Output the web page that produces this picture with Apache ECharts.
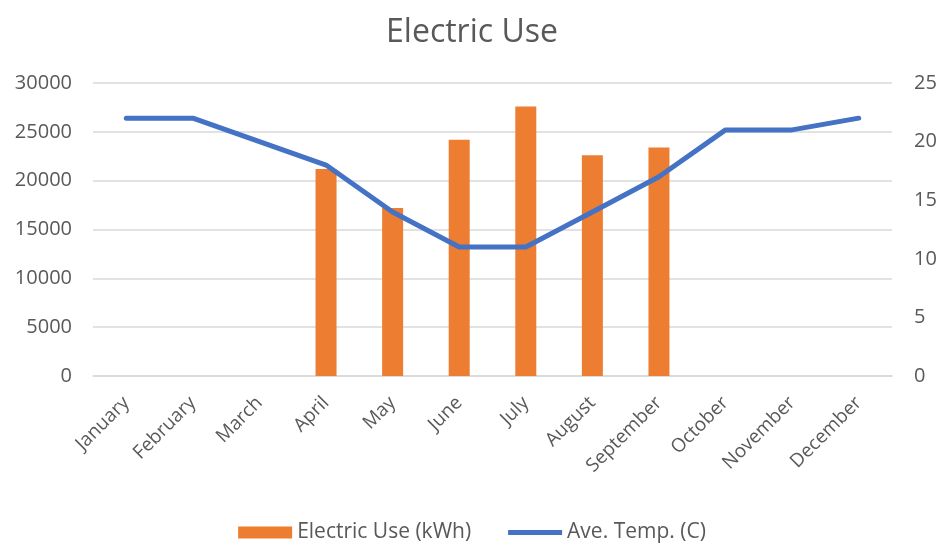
<!DOCTYPE html>
<html>
<head>
<meta charset="utf-8">
<script src="https://cdn.jsdelivr.net/npm/echarts@6/dist/echarts.min.js"></script>
<style>
  html, body { margin: 0; padding: 0; background: #fff; }
  #chart { width: 944px; height: 545px; }
</style>
</head>
<body>
<div id="chart"></div>
<script>
// Monthly electricity consumption and average temperature
const months = ['January', 'February', 'March', 'April', 'May', 'June',
                'July', 'August', 'September', 'October', 'November', 'December'];
const electricUse = [null, null, null, 21200, 17200, 24200, 27600, 22600, 23400, null, null, null];
const aveTemp = [22, 22, 20, 18, 14, 11, 11, 14, 17, 21, 21, 22];
const useTicks = { min: 0, max: 30000, interval: 5000 };
const tempTicks = { min: 0, max: 25, interval: 5 };

const textColor = '#595959';
const font = 'Open Sans';

const chart = echarts.init(document.getElementById('chart'), null, { renderer: 'canvas' });
chart.setOption({
  animation: false,
  backgroundColor: '#ffffff',
  title: {
    text: 'Electric Use',
    left: 'center',
    top: 12,
    textStyle: { color: textColor, fontFamily: font, fontSize: 32, fontWeight: 'normal' }
  },
  legend: {
    bottom: -3,
    left: 'center',
    itemGap: 37,
    itemWidth: 54,
    itemHeight: 12,
    textStyle: { color: textColor, fontFamily: font, fontSize: 21 },
    data: [
      { name: 'Electric Use (kWh)', icon: 'rect' },
      { name: 'Ave. Temp. (C)', icon: 'path://M0,0 L54,0 L54,5 L0,5 Z' }
    ]
  },
  grid: { left: 93, right: 52, top: 83, bottom: 169 },
  xAxis: {
    type: 'category',
    data: months,
    axisLine: { lineStyle: { color: '#d9d9d9', width: 1.5 } },
    axisTick: { show: false },
    axisLabel: { rotate: 45, color: textColor, fontFamily: font, fontSize: 19, margin: 24, interval: 0 }
  },
  yAxis: [
    {
      type: 'value',
      min: useTicks.min, max: useTicks.max, interval: useTicks.interval,
      axisLine: { show: false },
      axisTick: { show: false },
      splitLine: { lineStyle: { color: '#d9d9d9', width: 1.5 } },
      axisLabel: { color: textColor, fontFamily: font, fontSize: 20, margin: 21, formatter: v => String(v) }
    },
    {
      type: 'value',
      min: tempTicks.min, max: tempTicks.max, interval: tempTicks.interval,
      axisLine: { show: false },
      axisTick: { show: false },
      splitLine: { show: false },
      axisLabel: { color: textColor, fontFamily: font, fontSize: 20, margin: 22, formatter: v => String(v) }
    }
  ],
  series: [
    {
      name: 'Electric Use (kWh)',
      type: 'bar',
      data: electricUse,
      barWidth: 21,
      itemStyle: { color: '#ED7D31' }
    },
    {
      name: 'Ave. Temp. (C)',
      type: 'line',
      yAxisIndex: 1,
      data: aveTemp,
      symbol: 'none',
      lineStyle: { color: '#4472C4', width: 5, cap: 'round', join: 'round' },
      itemStyle: { color: '#4472C4' }
    }
  ]
});
</script>
</body>
</html>
